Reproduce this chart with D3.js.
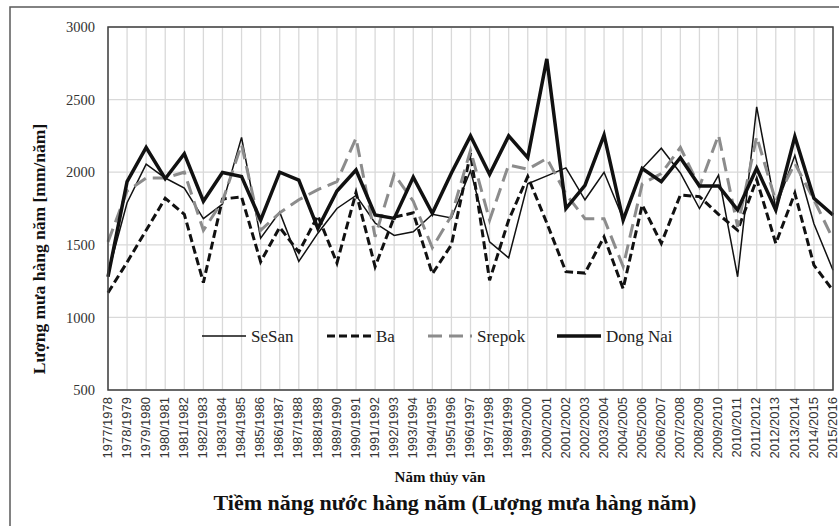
<!DOCTYPE html>
<html><head><meta charset="utf-8">
<script src="https://cdn.jsdelivr.net/npm/d3@7"></script>
<style>
html,body{margin:0;padding:0;background:#fff;}
svg{display:block;}
</style></head>
<body>
<svg id="chart" width="839" height="526"></svg>
<script>
const categories = ["1977/1978","1978/1979","1979/1980","1980/1981","1981/1982","1982/1983","1983/1984","1984/1985","1985/1986","1986/1987","1987/1988","1988/1989","1989/1990","1990/1991","1991/1992","1992/1993","1993/1994","1994/1995","1995/1996","1996/1997","1997/1998","1998/1999","1999/2000","2000/2001","2001/2002","2002/2003","2003/2004","2004/2005","2005/2006","2006/2007","2007/2008","2008/2009","2009/2010","2010/2011","2011/2012","2012/2013","2013/2014","2014/2015","2015/2016"];
const sesan = [1300,1790,2055,1960,1890,1680,1780,2240,1545,1725,1385,1580,1750,1840,1650,1565,1590,1710,1685,2010,1520,1410,1920,1975,2030,1810,2000,1680,2025,2165,1995,1750,1980,1280,2450,1750,2115,1645,1325];
const ba = [1170,1380,1600,1820,1710,1240,1815,1830,1383,1620,1450,1700,1375,1860,1350,1690,1720,1300,1500,2130,1255,1670,1970,1650,1315,1305,1555,1198,1775,1510,1843,1832,1710,1600,1950,1510,1855,1360,1185];
const srepok = [1520,1870,1960,1960,2000,1600,1800,2190,1600,1720,1810,1880,1935,2235,1555,1985,1800,1480,1700,2150,1670,2050,2020,2095,1850,1680,1680,1350,1920,1990,2170,1900,2256,1625,2245,1800,2060,1810,1540];
const dongnai = [1280,1935,2170,1955,2127,1800,1998,1970,1670,2000,1945,1613,1870,2015,1705,1682,1965,1717,1995,2250,1985,2250,2100,2780,1750,1910,2255,1670,2025,1935,2100,1905,1905,1740,2027,1740,2245,1820,1705];
const yTicks = [500,1000,1500,2000,2500,3000];
const seriesNames = ["SeSan","Ba","Srepok","Dong Nai"];

const SERIF = "'Liberation Serif','Times New Roman',serif";
const SANS = "'Liberation Sans',Arial,sans-serif";
const svg = d3.select("#chart");
const L = 108, R = 833, T = 27, B = 390;
const x = d3.scalePoint().domain(categories).range([L, R]).padding(0);
const y = d3.scaleLinear().domain([500, 3000]).range([B, T]);

// outer border
svg.append("rect").attr("x",10).attr("y",7).attr("width",840).attr("height",540)
  .attr("fill","none").attr("stroke","#5a5a5a").attr("stroke-width",1.5);

// gridlines
const g = svg.append("g");
g.selectAll(".hg").data(yTicks).join("line")
  .attr("x1",L).attr("x2",R).attr("y1",d=>y(d)).attr("y2",d=>y(d))
  .attr("stroke","#d9d9d9").attr("stroke-width",1.3);
g.selectAll(".vg").data(categories).join("line")
  .attr("x1",d=>x(d)).attr("x2",d=>x(d)).attr("y1",T).attr("y2",B)
  .attr("stroke","#d9d9d9").attr("stroke-width",1.3);

// y axis labels
const yAxis = d3.axisLeft(y).tickValues(yTicks).tickFormat(d3.format("d")).tickSize(0).tickPadding(13);
const ya = svg.append("g").attr("transform",`translate(${L},0)`).call(yAxis);
ya.attr("font-family",null).attr("font-size",null);
ya.select(".domain").remove();
ya.selectAll("text").style("font-family",SERIF).style("font-size","14.5px").attr("fill","#333");

// x axis labels
const xAxis = d3.axisBottom(x).tickSize(0).tickPadding(0);
const xa = svg.append("g").attr("transform",`translate(0,${B})`).call(xAxis);
xa.attr("font-family",null).attr("font-size",null);
xa.select(".domain").remove();
xa.selectAll("text")
  .style("font-family",SANS).style("font-size","13px").attr("fill","#333")
  .attr("text-anchor","end").attr("dy",null).attr("y",0)
  .attr("transform","translate(3.2,7) rotate(-90)");

// series
const series = [
  {name:"SeSan", values:sesan, color:"#111", width:1.5, dash:null},
  {name:"Ba", values:ba, color:"#111", width:3, dash:"8,4"},
  {name:"Srepok", values:srepok, color:"#8c8c8c", width:3, dash:"14,7"},
  {name:"Dong Nai", values:dongnai, color:"#111", width:3.5, dash:null}
];
const line = d3.line().x((d,i)=>x(categories[i])).y(d=>y(d));
svg.append("g").selectAll("path").data(series).join("path")
  .attr("d",d=>line(d.values)).attr("fill","none")
  .attr("stroke",d=>d.color).attr("stroke-width",d=>d.width)
  .attr("stroke-dasharray",d=>d.dash).attr("stroke-linejoin","miter");

// plot frame
svg.append("rect").attr("x",L).attr("y",T).attr("width",R-L).attr("height",B-T)
  .attr("fill","none").attr("stroke","#404040").attr("stroke-width",1.5);

// legend
const legX = [202, 327, 428, 557];
const lg = svg.append("g");
series.forEach((s,i)=>{
  lg.append("line").attr("x1",legX[i]).attr("x2",legX[i]+44).attr("y1",336).attr("y2",336)
    .attr("stroke",s.color).attr("stroke-width",s.width).attr("stroke-dasharray",s.dash);
  lg.append("text").attr("x",legX[i]+49).attr("y",341.5).text(seriesNames[i])
    .style("font-family",SERIF).style("font-size","17px").attr("fill","#222");
});

// axis titles
svg.append("text").attr("transform","translate(45,249) rotate(-90)").attr("text-anchor","middle")
  .style("font-family",SERIF).style("font-weight","bold")
  .style("font-size","17.5px").attr("fill","#111").text("Lượng mưa hàng năm [mm/năm]");
svg.append("text").attr("x",440).attr("y",482).attr("text-anchor","middle")
  .style("font-family",SERIF).style("font-weight","bold")
  .style("font-size","15px").attr("fill","#111").text("Năm thủy văn");
svg.append("text").attr("x",455).attr("y",510).attr("text-anchor","middle")
  .style("font-family",SERIF).style("font-weight","bold")
  .style("font-size","22px").attr("fill","#111").text("Tiềm năng nước hàng năm (Lượng mưa hàng năm)");
</script>
</body></html>
